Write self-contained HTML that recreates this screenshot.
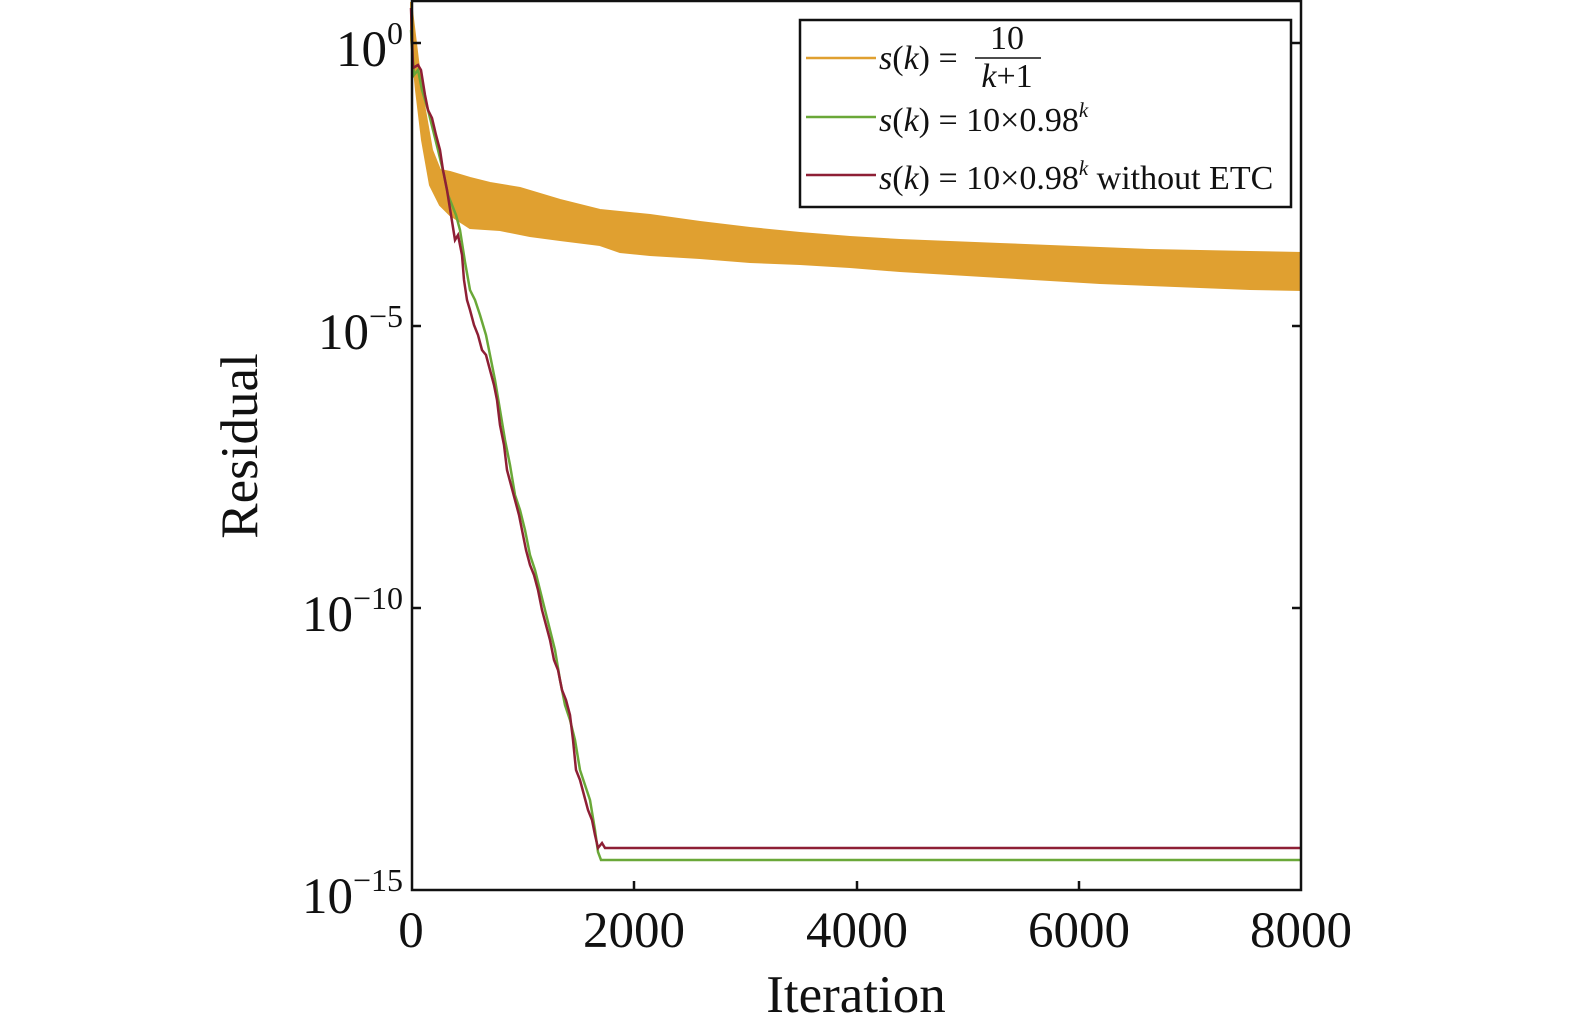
<!DOCTYPE html>
<html><head><meta charset="utf-8"><style>
html,body{margin:0;padding:0;background:#fff;overflow:hidden;width:1575px;height:1034px;}
svg{display:block;}
text{font-family:"Liberation Serif",serif;fill:#111;}
</style></head><body>
<svg width="1575" height="1034" viewBox="0 0 1575 1034" xmlns="http://www.w3.org/2000/svg">
<polygon fill="#e0a030" stroke="#e0a030" stroke-width="2" points="411,2 418,60 425,110 432,150 440,170 450,172 470,178 490,183 520,188 560,200 600,210 650,215 700,222 750,228 800,233 850,237 900,240 950,242 1000,244 1050,246 1100,248 1150,250 1200,251 1250,252 1301,253 1301,290 1250,289 1200,287 1150,285 1100,283 1050,280 1000,277 950,274 900,271 850,267 800,264 750,262 700,258 650,255 620,252 600,245 560,240 530,236 500,230 470,228 450,215 440,205 430,185 422,140 416,90 411,40"/>
<polyline fill="none" stroke="#6aa838" stroke-width="2.5" points="411,30 414,75 418,70 422,90 428,110 433,130 438,150 444,175 448,195 452,205 456,215 460,230 465,262 470,290 475,300 480,315 486,335 490,355 495,380 500,410 505,440 510,465 515,495 520,510 525,530 530,555 535,570 540,590 545,610 550,630 555,650 560,680 565,705 570,720 575,740 580,770 585,785 590,800 595,830 598,852 601,860 1301,860"/>
<polyline fill="none" stroke="#8e1f35" stroke-width="2.5" points="411,8 413,68 418,65 421,70 425,95 428,110 432,118 436,135 440,150 443,170 447,190 451,215 455,240 458,235 462,255 464,280 467,300 470,310 474,325 478,335 482,350 486,355 490,370 494,385 497,400 500,425 504,445 507,470 511,485 515,500 519,515 522,530 526,550 530,565 534,575 538,590 542,610 546,625 550,640 554,660 558,670 562,690 566,700 570,715 573,740 576,770 580,780 584,795 588,810 592,820 595,835 598,848 602,843 605,848 1301,848"/>
<rect x="412" y="1" width="889" height="889" fill="none" stroke="#111" stroke-width="2.5"/>
<g stroke="#111" stroke-width="2.5">
<line x1="412" y1="43" x2="421" y2="43"/><line x1="1301" y1="43" x2="1292" y2="43"/>
<line x1="412" y1="326" x2="421" y2="326"/><line x1="1301" y1="326" x2="1292" y2="326"/>
<line x1="412" y1="608" x2="421" y2="608"/><line x1="1301" y1="608" x2="1292" y2="608"/>
<line x1="634" y1="890" x2="634" y2="881"/><line x1="857" y1="890" x2="857" y2="881"/><line x1="1079" y1="890" x2="1079" y2="881"/>
</g>
<g font-size="51">
<text x="403" y="66" text-anchor="end">10<tspan font-size="32" dy="-22">0</tspan></text>
<text x="403" y="349" text-anchor="end">10<tspan font-size="32" dy="-22">−5</tspan></text>
<text x="403" y="631" text-anchor="end">10<tspan font-size="32" dy="-22">−10</tspan></text>
<text x="403" y="913" text-anchor="end">10<tspan font-size="32" dy="-22">−15</tspan></text>
<text x="411" y="947" text-anchor="middle">0</text>
<text x="634" y="947" text-anchor="middle">2000</text>
<text x="857" y="947" text-anchor="middle">4000</text>
<text x="1079" y="947" text-anchor="middle">6000</text>
<text x="1301" y="947" text-anchor="middle">8000</text>
<text x="856" y="1012" text-anchor="middle" font-size="53">Iteration</text>
<text transform="translate(257,446) rotate(-90)" text-anchor="middle" font-size="53">Residual</text>
</g>
<rect x="800" y="20" width="491" height="187" fill="#fff" stroke="#111" stroke-width="2.5"/>
<line x1="806" y1="58" x2="876" y2="58" stroke="#e0a030" stroke-width="2.5"/>
<line x1="806" y1="117" x2="876" y2="117" stroke="#6aa838" stroke-width="2.5"/>
<line x1="806" y1="175" x2="876" y2="175" stroke="#8e1f35" stroke-width="2.5"/>
<g font-size="34">
<text x="879" y="69"><tspan font-style="italic">s</tspan>(<tspan font-style="italic">k</tspan>) =</text>
<text x="1007" y="49" text-anchor="middle">10</text>
<line x1="975" y1="58" x2="1041" y2="58" stroke="#111" stroke-width="1.5"/>
<text x="1007" y="87" text-anchor="middle"><tspan font-style="italic">k</tspan>+1</text>
<text x="879" y="131"><tspan font-style="italic">s</tspan>(<tspan font-style="italic">k</tspan>) = 10×0.98<tspan font-size="21" dy="-14" font-style="italic">k</tspan></text>
<text x="879" y="189"><tspan font-style="italic">s</tspan>(<tspan font-style="italic">k</tspan>) = 10×0.98<tspan font-size="21" dy="-14" font-style="italic">k</tspan><tspan dy="14"> without ETC</tspan></text>
</g>
</svg>
</body></html>
